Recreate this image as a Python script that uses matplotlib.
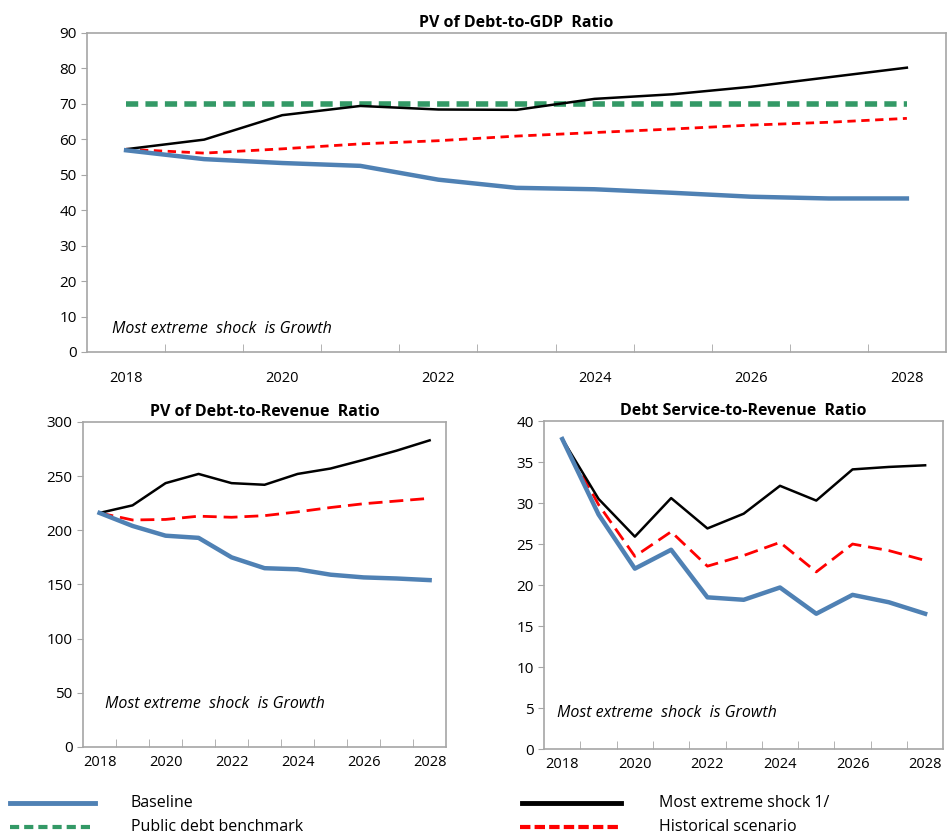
import numpy as np
import matplotlib
matplotlib.use("Agg")
import matplotlib.pyplot as plt
from matplotlib.lines import Line2D

plt.rcParams['font.family'] = ['Open Sans', 'DejaVu Sans']

years = [2018, 2019, 2020, 2021, 2022, 2023, 2024, 2025, 2026, 2027, 2028]
year_labels = ['2018', '2020', '2022', '2024', '2026', '2028']

# PV of debt-to-GDP
gdp_baseline = [56.9, 54.4, 53.3, 52.5, 48.6, 46.3, 45.9, 44.9, 43.8, 43.3, 43.3]
gdp_shock = [57.2, 59.9, 66.8, 69.4, 68.4, 68.3, 71.4, 72.7, 74.8, 77.5, 80.2]
gdp_hist = [57.2, 56.1, 57.3, 58.7, 59.6, 60.9, 61.9, 62.9, 64.0, 64.8, 65.9]
gdp_bench = [70] * 11

# PV of debt-to-revenue
rev_baseline = [216, 204, 195, 193, 175, 165, 164, 159, 156.5, 155.5, 154]
rev_shock = [216, 223, 243.5, 252, 243.5, 242, 252, 257, 265, 273.5, 283]
rev_hist = [216, 209.5, 210, 213, 212, 213.5, 217, 221, 224.5, 227, 229.5]

# Debt service-to-revenue
ds_baseline = [37.8, 28.6, 22.0, 24.3, 18.5, 18.2, 19.7, 16.5, 18.8, 17.9, 16.5]
ds_shock = [37.8, 30.5, 25.9, 30.6, 26.9, 28.7, 32.1, 30.3, 34.1, 34.4, 34.6]
ds_hist = [37.8, 29.8, 23.5, 26.5, 22.3, 23.6, 25.2, 21.6, 25.0, 24.2, 23.0]

blue = '#4f81b4'
green = '#339966'
spine_c = '#a6a6a6'

fig = plt.figure(figsize=(9.48, 8.36), dpi=100)
ax1 = fig.add_axes([0.0918, 0.579, 0.906, 0.3816])
ax2 = fig.add_axes([0.0876, 0.1065, 0.383, 0.3888])
ax3 = fig.add_axes([0.574, 0.104, 0.421, 0.3924])

x = np.arange(len(years))


def style(ax, ymax, ystep, title, pad_lab, lsize, note_xy):
    ax.set_xlim(-0.5, len(years) - 0.5)
    ax.set_ylim(0, ymax)
    ax.set_yticks(np.arange(0, ymax + 0.1, ystep))
    ax.set_xticks(x[::2])
    ax.set_xticklabels(year_labels)
    ax.set_xticks(x[:-1] + 0.5, minor=True)
    ax.tick_params(axis='x', which='major', length=0, pad=pad_lab, labelsize=lsize)
    ax.tick_params(axis='x', which='minor', direction='in', length=6, color=spine_c)
    ax.tick_params(axis='y', length=4, color=spine_c, labelsize=lsize + 0.5)
    for s in ax.spines.values():
        s.set_color(spine_c)
        s.set_linewidth(1.2)
    ax.set_title(title, fontsize=11.5, fontweight='bold', pad=4)
    ax.text(note_xy[0], note_xy[1], 'Most extreme  shock  is Growth',
            transform=ax.transAxes, fontsize=11.5, style='italic', va='center')


# top panel
ax1.plot(x, gdp_bench, color=green, lw=4, dashes=(2.2, 1.3))
ax1.plot(x, gdp_hist, color='red', lw=2, dashes=(3, 2))
ax1.plot(x, gdp_shock, color='black', lw=1.8)
ax1.plot(x, gdp_baseline, color=blue, lw=3.2)
style(ax1, 90, 10, 'PV of Debt-to-GDP  Ratio', 14, 10.5, (0.029, 0.073))

# bottom left
ax2.plot(x, rev_hist, color='red', lw=2, dashes=(5, 2.5))
ax2.plot(x, rev_shock, color='black', lw=1.8)
ax2.plot(x, rev_baseline, color=blue, lw=3.2)
style(ax2, 300, 50, 'PV of Debt-to-Revenue  Ratio', 6, 10.5, (0.06, 0.132))

# bottom right
ax3.plot(x, ds_hist, color='red', lw=2, dashes=(5, 2.5))
ax3.plot(x, ds_shock, color='black', lw=1.8)
ax3.plot(x, ds_baseline, color=blue, lw=3.2)
style(ax3, 40, 5, 'Debt Service-to-Revenue  Ratio', 6, 10.5, (0.033, 0.11))

# legend at the bottom
leg = [
    (0.011, 0.100, 0.040, blue, 3.5, None, 'Baseline'),
    (0.011, 0.100, 0.011, green, 3, (2.2, 1.2), 'Public debt benchmark'),
    (0.551, 0.655, 0.040, 'black', 3.5, None, 'Most extreme shock 1/'),
    (0.549, 0.655, 0.011, 'red', 3, (2.5, 1.0), 'Historical scenario'),
]
for x0, x1, yy, c, lw, d, lab in leg:
    ln = Line2D([x0, x1], [yy, yy], color=c, lw=lw, transform=fig.transFigure)
    if d is not None:
        ln.set_dashes(d)
    fig.add_artist(ln)
    tx = 0.138 if x0 < 0.3 else 0.695
    fig.text(tx, yy, lab, fontsize=11.5, va='center')

fig.savefig('out.png', dpi=100)
